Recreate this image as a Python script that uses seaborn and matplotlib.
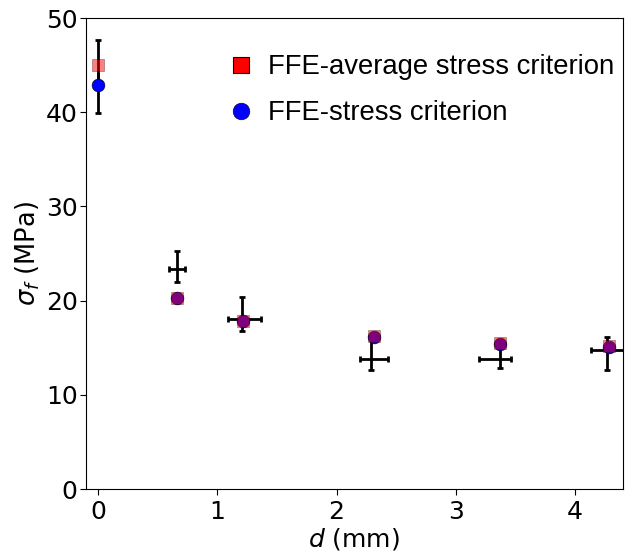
import numpy as np
import pandas as pd
import matplotlib
matplotlib.use("Agg")
import matplotlib.pyplot as plt
import seaborn as sns
from matplotlib.lines import Line2D

# Model predictions
d_model = [0.0, 0.66, 1.22, 2.31, 3.37, 4.28]
avg_stress = [45.0, 20.3, 17.8, 16.2, 15.5, 15.2]
pt_stress = [42.9, 20.3, 17.8, 16.1, 15.4, 15.1]

# Experiments
d_exp = [0.0, 0.666, 1.21, 2.29, 3.37, 4.27]
d_err_lo = [0.0, 0.07, 0.12, 0.09, 0.18, 0.14]
d_err_hi = [0.0, 0.064, 0.16, 0.14, 0.09, 0.15]
s_exp = [43.8, 23.4, 18.1, 13.8, 13.8, 14.8]
s_err_lo = [3.9, 1.4, 1.3, 1.2, 1.0, 2.2]
s_err_hi = [3.9, 1.9, 2.3, 2.4, 1.2, 1.3]

sns.set_style("white")
plt.rcParams['font.family'] = ['DejaVu Sans']
plt.rcParams['text.color'] = 'black'
plt.rcParams['axes.labelcolor'] = 'black'
plt.rcParams['xtick.color'] = 'black'
plt.rcParams['ytick.color'] = 'black'

fig = plt.figure(figsize=(6.25, 5.56), dpi=100)
ax = fig.add_axes([0.1376, 0.1205, 0.859, 0.847])

ax.errorbar(d_exp, s_exp, yerr=[s_err_lo, s_err_hi], xerr=[d_err_lo, d_err_hi],
            fmt='none', ecolor='black', elinewidth=2, capsize=2.2, capthick=2, zorder=2)

df_pt = pd.DataFrame({"d": d_model, "s": pt_stress})
df_avg = pd.DataFrame({"d": d_model, "s": avg_stress})
sns.scatterplot(data=df_pt, x="d", y="s", ax=ax, marker='o', s=85, color='blue',
                edgecolor='black', linewidth=0.4, zorder=3, legend=False)
sns.scatterplot(data=df_avg, x="d", y="s", ax=ax, marker='s', s=85, color='red',
                alpha=0.5, edgecolor='black', linewidth=0.4, zorder=4, legend=False)

ax.set_xlim(-0.10, 4.40)
ax.set_ylim(0, 50)
ax.set_xticks([0, 1, 2, 3, 4])
ax.set_yticks([0, 10, 20, 30, 40, 50])
ax.tick_params(axis='x', labelsize=18, direction='out', length=4, width=0.8,
               bottom=True, pad=4)
ax.tick_params(axis='y', labelsize=18, direction='out', length=4, width=0.8,
               left=True, pad=2)
ax.set_xlabel(r"$d$ (mm)", fontsize=18, labelpad=1)
ax.set_ylabel(r"$\sigma_f$ (MPa)", fontsize=18.5, labelpad=3)
for sp in ax.spines.values():
    sp.set_color('black')
    sp.set_linewidth(0.8)

handles = [
    Line2D([], [], linestyle='none', marker='s', markersize=11, markerfacecolor='red',
           markeredgecolor='black', markeredgewidth=0.8, label='FFE-average stress criterion'),
    Line2D([], [], linestyle='none', marker='o', markersize=12, markerfacecolor='blue',
           markeredgecolor='black', markeredgewidth=0.4, label='FFE-stress criterion'),
]
ax.legend(handles=handles, loc='upper right', frameon=False,
          prop={'family': 'Liberation Sans', 'size': 19.8},
          handletextpad=0.0, labelspacing=0.72, bbox_to_anchor=(1.015, 0.958), borderaxespad=0.2)

fig.savefig("out.png", dpi=100)
